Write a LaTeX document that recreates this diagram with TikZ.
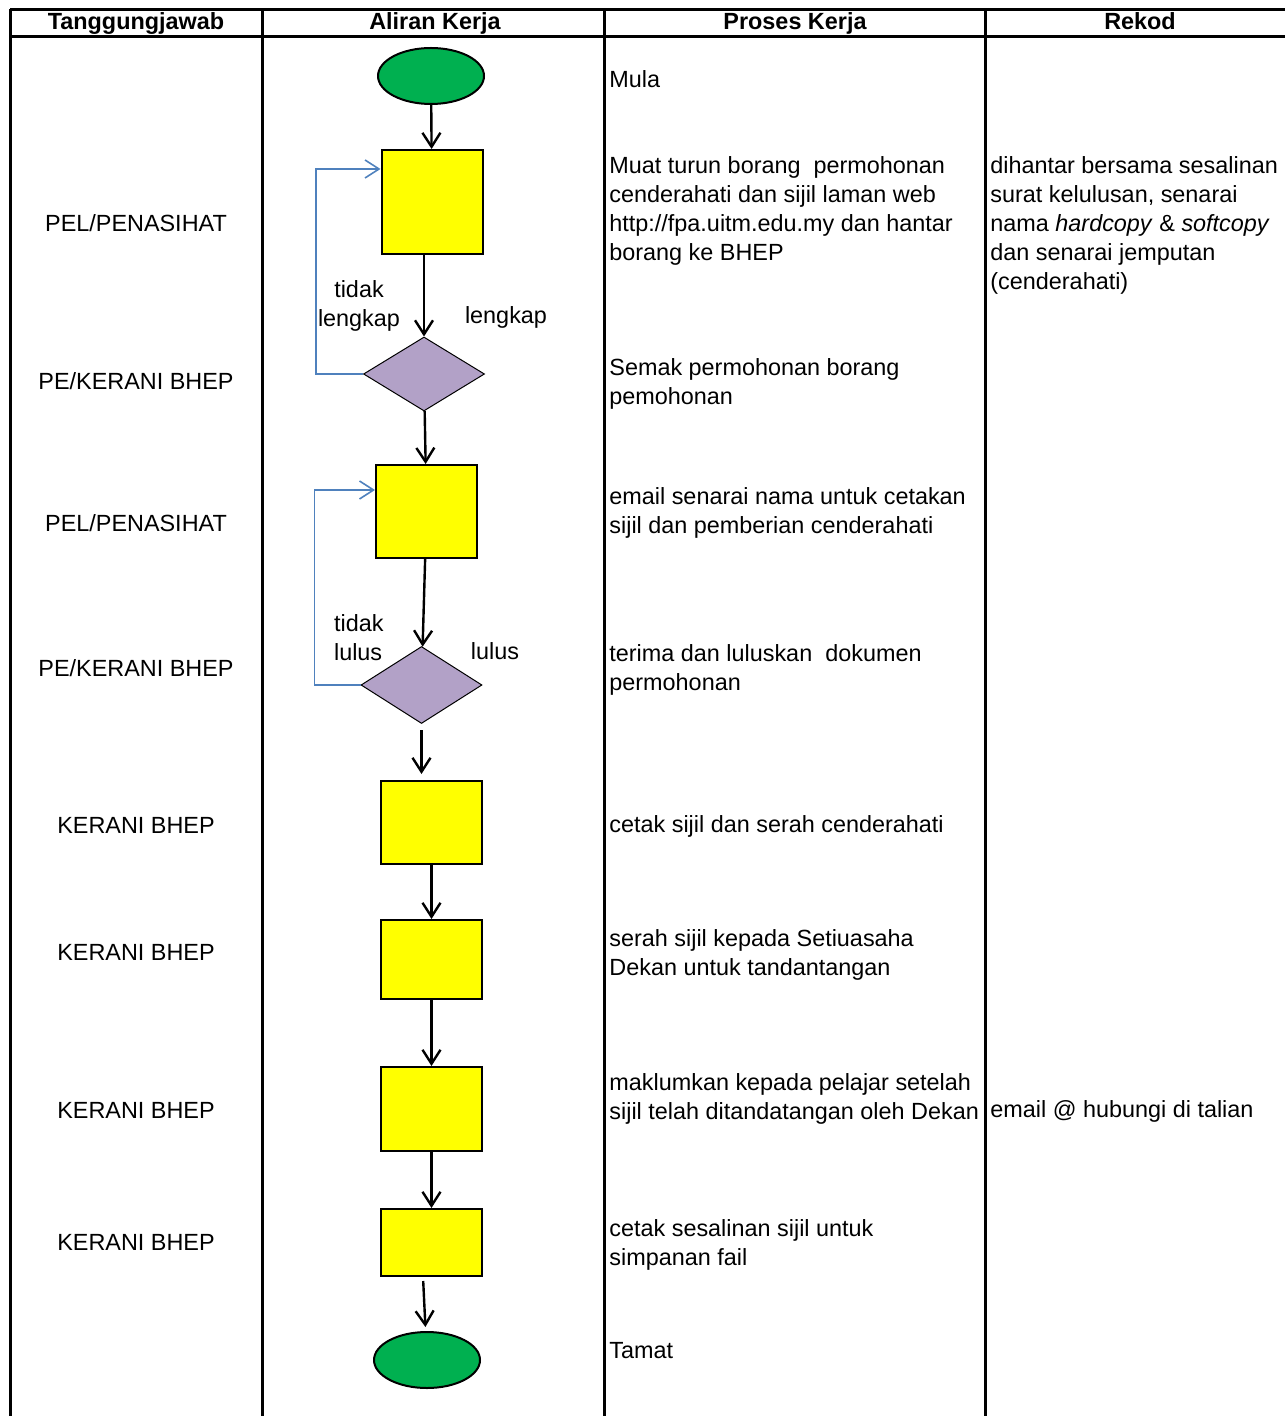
\documentclass[tikz,border=0pt]{standalone}
\usepackage{fontspec}
\setmainfont{Liberation Sans}
\usetikzlibrary{shapes.geometric,arrows.meta}

\begin{document}
\begin{tikzpicture}[x=0.5pt,y=-0.5pt,font=\fontsize{11.7pt}{14.5pt}\selectfont,
   grid/.style={line width=1.5pt},
   terminal/.style={ellipse,draw,fill=startcolor,line width=1pt,minimum width=53pt,minimum height=28pt,inner sep=0pt},
   task/.style={rectangle,draw,fill=taskcolor,line width=1pt,minimum width=50.5pt,inner sep=0pt},
   check/.style={diamond,draw,fill=checkcolor,line width=0.5pt,minimum width=60.5pt,inner sep=0pt},
   flow/.style={line width=1.2pt,-{Straight Barb[length=7pt,width=9pt]}},
   back/.style={draw=loopcolor,line width=0.8pt,-{Straight Barb[length=7pt,width=9pt]}},
   head/.style={anchor=base,font=\fontsize{11.7pt}{14.5pt}\selectfont\bfseries},
   proc/.style={anchor=west,align=left,inner xsep=2pt}]
   \definecolor{startcolor}{HTML}{00B050}
   \definecolor{taskcolor}{HTML}{FFFF00}
   \definecolor{checkcolor}{HTML}{B2A1C7}
   \definecolor{loopcolor}{HTML}{4F81BD}
   \useasboundingbox (0,0) rectangle (1285,1416);
   \draw [grid] (10,10) -- (1285,10);
   \draw [grid] (10,37) -- (1285,37);
   \draw [grid] (10,9.25) -- (10,1416);
   \draw [grid] (262,10) -- (262,1416);
   \draw [grid] (604,10) -- (604,1416);
   \draw [grid] (985,10) -- (985,1416);
   \node [head] (h1) at (136,30) {Tanggungjawab};
   \node [head] (h2) at (435,30) {Aliran Kerja};
   \node [head] (h3) at (795,30) {Proses Kerja};
   \node [head] (h4) at (1140,30) {Rekod};
   \node (r1) at (136,223) {PEL/PENASIHAT};
   \node (r2) at (136,381) {PE/KERANI BHEP};
   \node (r3) at (136,523) {PEL/PENASIHAT};
   \node (r4) at (136,668) {PE/KERANI BHEP};
   \node (r5) at (136,825) {KERANI BHEP};
   \node (r6) at (136,952) {KERANI BHEP};
   \node (r7) at (136,1110) {KERANI BHEP};
   \node (r8) at (136,1242) {KERANI BHEP};
   \node [terminal] (start) at (431,76) {};
   \node [task,minimum height=52pt] (b1) at (432,202) {};
   \node [check,minimum height=37pt] (d1) at (424,374) {};
   \node [task,minimum height=46.5pt] (b2) at (426.5,511.5) {};
   \node [check,minimum height=38.5pt] (d2) at (421.5,685) {};
   \node [task,minimum height=41.5pt] (b3) at (431.5,822.5) {};
   \node [task,minimum height=39.5pt] (b4) at (431.5,959.5) {};
   \node [task,minimum height=42pt] (b5) at (431.5,1109) {};
   \node [task,minimum height=33.5pt] (b6) at (431.5,1242.5) {};
   \node [terminal] (end) at (427,1360) {};
   \draw [flow] (start) -- (b1);
   \draw [flow] (b1.south -| 424,0) -- (d1);
   \draw [flow] (d1) -- (b2);
   \draw [flow] (b2) -- (d2);
   \draw [flow,shorten <=3pt,shorten >=3pt] (d2) -- (d2 |- b3.north);
   \draw [flow] (b3) -- (b4);
   \draw [flow] (b4) -- (b5);
   \draw [flow] (b5) -- (b6);
   \draw [flow,shorten <=2pt,shorten >=2pt] (b6.south -| 423,0) -- (end);
   \draw [back] (d1.west) -- ++(-47,0) |- ([yshift=-10pt]b1.north west);
   \draw [back] (d2.west) -- ++(-46,0) |- ([yshift=-13pt]b2.north west);
   \node [align=center] (no1) at (359,306) {tidak\\lengkap};
   \node (yes1) at (506,317) {lengkap};
   \node [align=left,anchor=west] (no2) at (327,638) {tidak\\lulus};
   \node (yes2) at (495,651) {lulus};
   \node [proc] (p1) at (605,79) {Mula};
   \node [proc] (p2) at (605,211) {Muat turun borang~ permohonan\\cenderahati dan sijil laman web\\http://fpa.uitm.edu.my dan hantar\\borang ke BHEP};
   \node [proc] (p3) at (605,384) {Semak permohonan borang\\pemohonan};
   \node [proc] (p4) at (605,513) {email senarai nama untuk cetakan\\sijil dan pemberian cenderahati};
   \node [proc] (p5) at (605,670) {terima dan luluskan~ dokumen\\permohonan};
   \node [proc] (p6) at (605,826) {cetak sijil dan serah cenderahati};
   \node [proc] (p7) at (605,955) {serah sijil kepada Setiuasaha\\Dekan untuk tandantangan};
   \node [proc] (p8) at (605,1098.5) {maklumkan kepada pelajar setelah\\sijil telah ditandatangan oleh Dekan};
   \node [proc] (p9) at (605,1245) {cetak sesalinan sijil untuk\\simpanan fail};
   \node [proc] (p10) at (605,1351) {Tamat};
   \node [proc] (k1) at (986,225.5) {dihantar bersama sesalinan\\surat kelulusan, senarai\\nama \textit{hardcopy} \& \textit{softcopy}\\dan senarai jemputan\\(cenderahati)};
   \node [proc] (k2) at (986,1111) {email @ hubungi di talian};
\end{tikzpicture}
\end{document}
